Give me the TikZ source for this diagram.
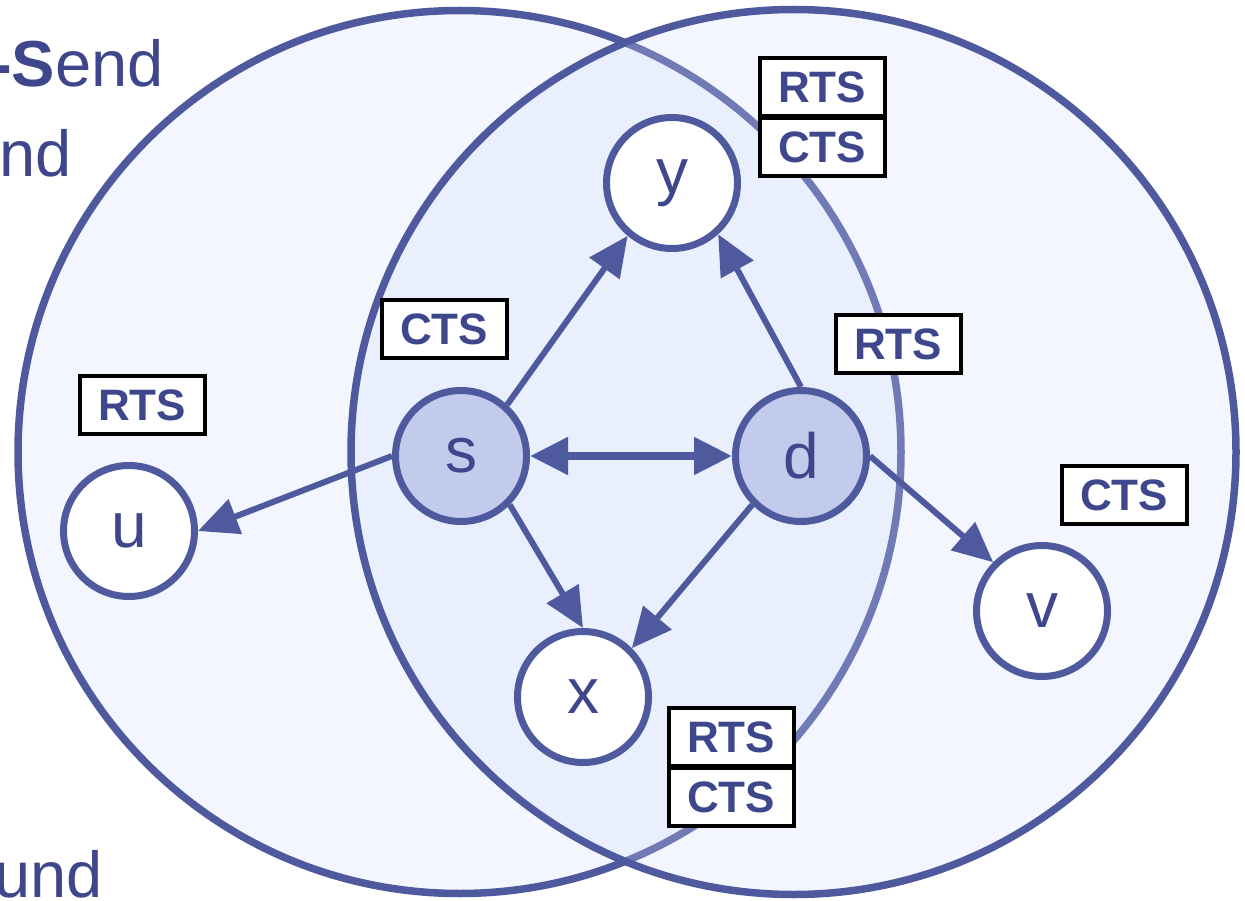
\documentclass[tikz,border=0pt]{standalone}
\usepackage{fontspec}
\setmainfont{Liberation Sans}
\usetikzlibrary{arrows.meta,positioning}

\definecolor{linec}{RGB}{79,90,158}
\definecolor{textc}{RGB}{62,70,140}
\definecolor{nodefill}{RGB}{195,203,236}
\definecolor{rangefill}{RGB}{243,246,254}
\definecolor{rangetint}{RGB}{208,220,251}

\tikzset{
  station/.style={circle, draw=linec, line width=7pt, fill=white, minimum size=131pt,
    inner sep=0pt, text=textc, font=\fontsize{64}{64}\selectfont},
  busy/.style={station, fill=nodefill},
  msgbox/.style={draw=black, line width=4pt, fill=white, minimum width=125pt,
    minimum height=58pt, inner sep=0pt, text=textc, font=\fontsize{44}{44}\selectfont\bfseries},
  heading/.style={inner sep=0pt, anchor=base east, text=textc, font=\fontsize{65}{65}\selectfont},
  reach/.style={draw=linec, line width=7.5pt},
  link/.style={draw=linec, line width=6pt, -{Triangle[length=40pt,width=36pt]}},
}

\begin{document}
\begin{tikzpicture}[x=1pt,y=-1pt]
\clip (0,0) rectangle (1245,901);

% transmission ranges of s and d
\draw[reach, fill=rangefill] (459.5,452) circle (441.5pt);
\draw[reach, fill=rangetint, fill opacity=0.26] (793.5,452) circle (442.5pt);

% text cut by the left border
\node[heading] (line1) at (164,87) {\textbf{-S}end};
\node[heading] (line2) at (72,177) {nd};
\node[heading] (line3) at (103,897) {und};

% stations
\node[station] (y) at (672,183) {y};
\node[busy] (s) at (461,456) {s};
\node[busy] (d) at (801,456) {d};
\node[station] (u) at (129,531) {u};
\node[station] (x) at (583,697) {x};
\node[station] (v) at (1042,611) {v};

% frames heard
\node[msgbox] (rtsTop) at (822,87) {RTS};
\node[msgbox, below=-2pt of rtsTop] (ctsTop) {CTS};
\node[msgbox] (ctsS) at (444,329) {CTS};
\node[msgbox] (rtsD) at (898,344) {RTS};
\node[msgbox] (rtsU) at (142,405) {RTS};
\node[msgbox] (ctsV) at (1124,495) {CTS};
\node[msgbox] (rtsBot) at (731,737) {RTS};
\node[msgbox, below=-2pt of rtsBot] (ctsBot) {CTS};

% links
\draw[link] (s.west) -- (u.east);
\draw[link] (s.48) -- (y.230);
\draw[link] (s.-45) -- (x.north);
\draw[link] (d.north) -- (y.-48);
\draw[link] (d.-135) -- (x.45);
\draw[link] (d.east) -- (v.135);
\draw[link, line width=8pt, {Triangle[length=38pt,width=36pt]}-{Triangle[length=38pt,width=36pt]}] (s.east) -- (d.west);
\end{tikzpicture}
\end{document}
